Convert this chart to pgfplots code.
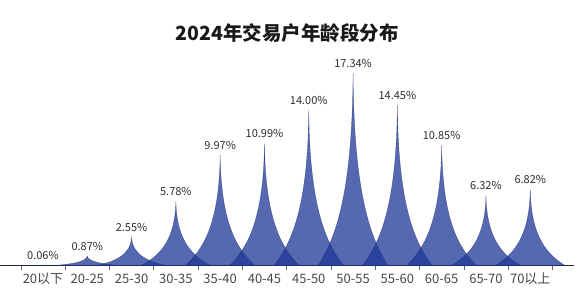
\documentclass[border=0pt]{standalone}
\usepackage{pgfplots}
\pgfplotsset{compat=1.18}
\usepackage{fontspec}
\setmainfont{Noto Sans CJK SC}
\definecolor{spikeblue}{RGB}{30,55,150}
\definecolor{spikeedge}{RGB}{25,40,115}
\definecolor{labelgray}{RGB}{45,45,45}
\definecolor{tickgray}{RGB}{70,70,70}
\pgfdeclareplotmark{spike}{%
  \pgfmathsetmacro\hA{-\vy*11.1}%
  \pgfmathsetmacro\hB{-\vy*11.1*0.86}%
  \pgfmathsetmacro\hC{-\vy*11.1*0.64}%
  \pgfpathmoveto{\pgfpoint{-35pt}{\hA pt}}%
  \pgfpathcurveto{\pgfpoint{-18pt}{\hB pt}}{\pgfpoint{-0.8pt}{\hC pt}}{\pgfpoint{0pt}{0pt}}%
  \pgfpathcurveto{\pgfpoint{0.8pt}{\hC pt}}{\pgfpoint{18pt}{\hB pt}}{\pgfpoint{35pt}{\hA pt}}%
  \pgfpathclose
  \pgfusepathqfillstroke
}
\begin{document}
\begin{tikzpicture}
\path[use as bounding box] (0pt,-23.3pt) rectangle (584pt,265.7pt);
\begin{axis}[
  at={(0pt,0pt)}, anchor=south west,
  x=44.3pt, y=11.1pt,
  xmin=-0.97, xmax=11.99, ymin=0, ymax=20,
  scale only axis,
  axis on top,
  axis x line*=bottom, axis y line=none,
  x axis line style={draw=black!85, line width=1.2pt},
  xtick={0,...,11},
  xticklabels={20以下,20-25,25-30,30-35,35-40,40-45,45-50,50-55,55-60,60-65,65-70,70以上},
  major tick length=0pt,
  minor xtick={-0.5,0.5,...,11.5},
  minor tick length=4pt,
  xtick align=outside,
  minor tick style={draw=black!60, line width=0.6pt},
  xticklabel style={font=\fontsize{13}{13}\selectfont, text=tickgray, anchor=base, yshift=-18pt},
  ytick=\empty,
  /pgf/number format/assume math mode=true,
  clip=false,
]
\addplot[
  only marks, mark=spike,
  mark options={fill=spikeblue, fill opacity=0.75, draw=spikeedge, draw opacity=0.6, line width=0.4pt},
  visualization depends on={rawy \as \vy},
  point meta=explicit,
  nodes near coords={\pgfmathprintnumber[fixed,fixed zerofill,precision=2]{\pgfplotspointmeta}\%},
  every node near coord/.append style={font=\fontsize{11}{11}\selectfont, text=labelgray, text opacity=1, opacity=1, anchor=base, yshift=6pt, inner sep=0pt},
] coordinates {
(0,0.06) [0.06]
(1,0.87) [0.87]
(2,2.55) [2.55]
(3,5.78) [5.78]
(4,9.97) [9.97]
(5,10.99) [10.99]
(6,14.00) [14.00]
(7,17.34) [17.34]
(8,14.45) [14.45]
(9,10.85) [10.85]
(10,6.32) [6.32]
(11,6.82) [6.82]
};
\end{axis}
\node[font=\fontsize{19.5}{19.5}\selectfont\bfseries, text=black!90] at (287pt,232.7pt) {2024年交易户年龄段分布};
\end{tikzpicture}
\end{document}
